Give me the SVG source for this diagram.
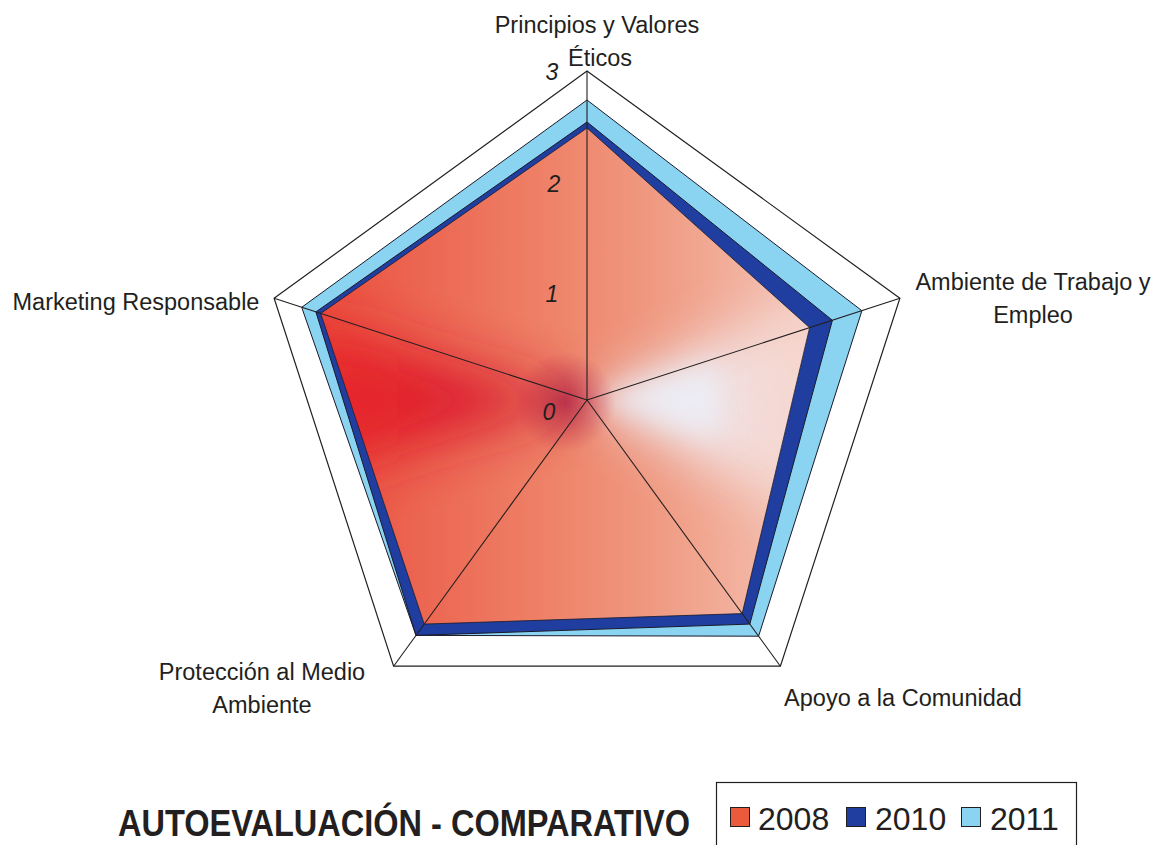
<svg xmlns="http://www.w3.org/2000/svg" width="1162" height="845" viewBox="0 0 1162 845">
<style>
.lbl{font-family:"Liberation Sans",Arial,sans-serif;font-size:23.5px;fill:#231f20;text-anchor:middle}
.num{font-family:"Liberation Sans",Arial,sans-serif;font-size:23px;font-style:italic;fill:#231f20;text-anchor:middle}
.leg{font-family:"Liberation Sans",Arial,sans-serif;font-size:32px;fill:#231f20}
.ttl{font-family:"Liberation Sans",Arial,sans-serif;font-size:36px;font-weight:bold;fill:#231f20}
.ser{stroke:#1a1a2a;stroke-width:1;stroke-linejoin:miter}
.spoke{stroke:#231f20;stroke-width:1.1;fill:none}
</style>
<defs>
<clipPath id="clipRed"><polygon points="587,128 809.6,327.7 742.2,613.6 424.2,624.1 320.7,313.5"/></clipPath>
<filter id="blur" x="-50%" y="-50%" width="200%" height="200%"><feGaussianBlur stdDeviation="28"/></filter>
<filter id="blurS" x="-50%" y="-50%" width="200%" height="200%"><feGaussianBlur stdDeviation="14"/></filter>
<linearGradient id="gBase" gradientUnits="userSpaceOnUse" x1="320" y1="0" x2="810" y2="0">
<stop offset="0" stop-color="#ea5040"/>
<stop offset="0.45" stop-color="#ee8066"/>
<stop offset="0.7" stop-color="#f09c84"/>
<stop offset="1" stop-color="#f4c4b6"/>
</linearGradient>
<linearGradient id="gRedW" gradientUnits="userSpaceOnUse" x1="320" y1="0" x2="587" y2="0">
<stop offset="0" stop-color="#e82228"/>
<stop offset="0.7" stop-color="#d81c30"/>
<stop offset="1" stop-color="#b8183c"/>
</linearGradient>
<linearGradient id="gWhiteW" gradientUnits="userSpaceOnUse" x1="587" y1="0" x2="810" y2="0">
<stop offset="0" stop-color="#e6e8f2"/>
<stop offset="0.5" stop-color="#f0e6ea"/>
<stop offset="1" stop-color="#f6d6ce"/>
</linearGradient>
<radialGradient id="gDark" gradientUnits="userSpaceOnUse" cx="565" cy="402" r="50">
<stop offset="0" stop-color="#a8163c" stop-opacity="0.7"/>
<stop offset="1" stop-color="#b81a3c" stop-opacity="0"/>
</radialGradient>
</defs>
<rect x="0" y="0" width="1162" height="845" fill="#ffffff"/>

<g id="grid">
<polygon points="587,71 899.9,298.3 780.4,666.2 393.6,666.2 274.1,298.3" fill="#ffffff" stroke="#231f20" stroke-width="1.2"/>
</g>

<g id="series-2011">
<polygon class="ser" points="587,100 861.9,310.7 758.6,636.2 416,635.4 301.7,307.3" fill="#8ad3f1"/>
</g>
<g id="series-2010">
<polygon class="ser" points="587,122 832.4,320.3 749.8,624.1 416,635.4 315.9,311.9" fill="#1f3e9f"/>
</g>
<g id="series-2008">
<polygon points="587,128 809.6,327.7 742.2,613.6 424.2,624.1 320.7,313.5" fill="url(#gBase)"/>
<g clip-path="url(#clipRed)">
<polygon points="587,400 300,320 300,480" fill="url(#gRedW)" filter="url(#blur)" opacity="0.95"/>
<polygon points="587,400 850,280 850,540" fill="url(#gWhiteW)" filter="url(#blur)" opacity="0.95"/>
<polygon points="587,400 720,360 720,440" fill="#eceef6" filter="url(#blurS)" opacity="0.9"/>
<rect x="300" y="120" width="520" height="510" fill="url(#gDark)"/>
</g>
<polygon points="587,128 809.6,327.7 742.2,613.6 424.2,624.1 320.7,313.5" fill="none" stroke="#1a1a2a" stroke-width="0.8"/>
</g>

<g id="connectors">
<line class="spoke" x1="587" y1="400" x2="587" y2="71"/>
<line class="spoke" x1="587" y1="400" x2="899.9" y2="298.3"/>
<line class="spoke" x1="587" y1="400" x2="780.4" y2="666.2"/>
<line class="spoke" x1="587" y1="400" x2="393.6" y2="666.2"/>
<line class="spoke" x1="587" y1="400" x2="274.1" y2="298.3"/>
</g>

<g id="axis-labels">
<text class="num" x="552" y="80">3</text>
<text class="num" x="554" y="192">2</text>
<text class="num" x="552" y="302">1</text>
<text class="num" x="549" y="420">0</text>
</g>

<g id="node-principios">
<text class="lbl" x="597" y="33">Principios y Valores</text>
<text class="lbl" x="600" y="66">Éticos</text>
</g>
<g id="node-ambiente">
<text class="lbl" x="1033" y="290">Ambiente de Trabajo y</text>
<text class="lbl" x="1033" y="323">Empleo</text>
</g>
<g id="node-apoyo">
<text class="lbl" x="903" y="706">Apoyo a la Comunidad</text>
</g>
<g id="node-proteccion">
<text class="lbl" x="262" y="680">Protección al Medio</text>
<text class="lbl" x="262" y="713">Ambiente</text>
</g>
<g id="node-marketing">
<text class="lbl" x="136" y="310">Marketing Responsable</text>
</g>

<g id="title">
<text class="ttl" x="118" y="836" textLength="572" lengthAdjust="spacingAndGlyphs">AUTOEVALUACIÓN - COMPARATIVO</text>
</g>

<g id="legend">
<rect x="716.5" y="782.5" width="360" height="70" fill="#ffffff" stroke="#231f20" stroke-width="1.2"/>
<rect x="730.5" y="807.5" width="19" height="19" fill="#ec5a3c" stroke="#231f20" stroke-width="1"/>
<text class="leg" x="758" y="830">2008</text>
<rect x="846.5" y="807.5" width="19" height="19" fill="#1f3e9f" stroke="#231f20" stroke-width="1"/>
<text class="leg" x="875" y="830">2010</text>
<rect x="961.5" y="807.5" width="19" height="19" fill="#8ad3f1" stroke="#231f20" stroke-width="1"/>
<text class="leg" x="990" y="830">2011</text>
</g>
</svg>
